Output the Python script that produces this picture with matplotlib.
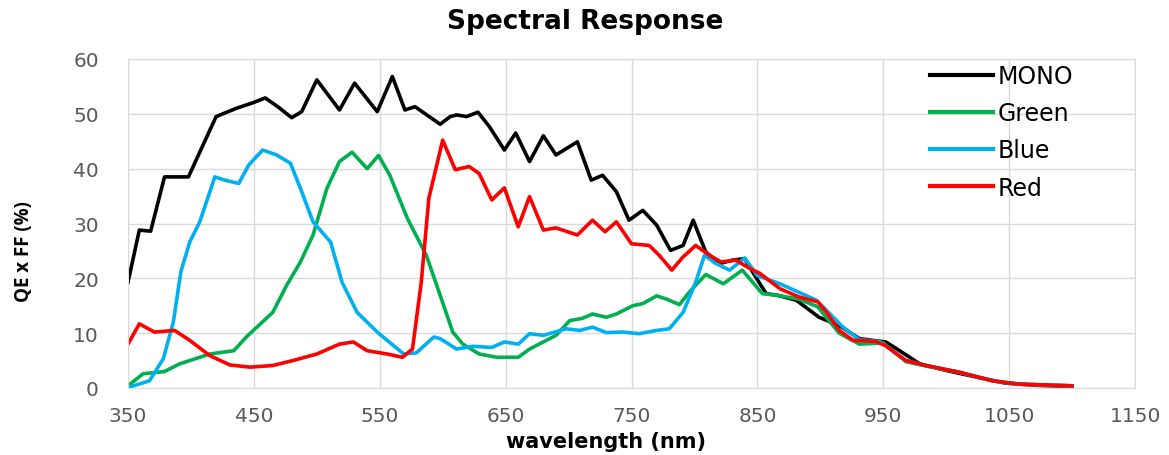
import matplotlib
matplotlib.use("Agg")
import matplotlib.pyplot as plt

# ---------- data ----------
mono_nm = [350, 359, 368, 379, 398, 407, 420, 436, 449, 459, 469, 480, 488, 500, 518, 530,
           548, 560, 570, 578, 598, 606, 611, 619, 628, 637, 649, 658, 669, 680, 690, 707,
           718, 727, 738, 748, 759, 770, 781, 791, 799, 809, 820, 830, 840, 848, 857, 866,
           881, 899, 915, 931, 952, 963, 979, 1000, 1024, 1047, 1071, 1100]
mono_qe = [19.3, 28.8, 28.6, 38.5, 38.5, 43.0, 49.5, 51.0, 52.0, 52.9, 51.3, 49.3, 50.4, 56.2, 50.7, 55.6,
           50.4, 56.8, 50.7, 51.3, 48.1, 49.5, 49.8, 49.5, 50.3, 47.7, 43.4, 46.5, 41.3, 46.0, 42.5, 44.9,
           37.9, 38.8, 35.8, 30.6, 32.4, 29.7, 25.1, 26.0, 30.6, 24.8, 22.7, 23.3, 23.6, 20.5, 17.2, 16.9,
           16.0, 12.9, 11.4, 9.0, 8.4, 6.8, 4.4, 3.2, 2.0, 0.9, 0.5, 0.3]

green_nm = [350, 362, 379, 391, 415, 434, 444, 465, 476, 487, 497, 508, 518, 528, 540, 549,
            558, 572, 587, 598, 608, 616, 629, 643, 660, 669, 690, 701, 711, 719, 730, 738,
            751, 759, 770, 778, 788, 796, 809, 823, 838, 854, 866, 883, 898, 915, 931, 950,
            968, 984, 1010, 1037, 1058, 1100]
green_qe = [0.4, 2.6, 3.0, 4.4, 6.2, 6.8, 9.3, 13.8, 18.7, 23.0, 27.9, 36.4, 41.3, 43.0, 40.0, 42.4,
            38.8, 30.9, 24.2, 16.9, 10.2, 8.0, 6.2, 5.6, 5.6, 7.1, 9.6, 12.3, 12.7, 13.5, 12.9, 13.5,
            15.0, 15.4, 16.8, 16.2, 15.2, 17.5, 20.7, 19.0, 21.5, 17.2, 16.9, 16.2, 14.8, 10.0, 8.0, 8.2,
            4.8, 4.0, 2.9, 1.3, 0.7, 0.4]

blue_nm = [350, 367, 378, 386, 392, 399, 407, 419, 427, 438, 446, 457, 468, 479, 487, 497,
           511, 520, 532, 548, 569, 579, 593, 598, 611, 624, 639, 649, 660, 669, 680, 698,
           709, 719, 730, 743, 756, 770, 780, 791, 801, 808, 817, 828, 840, 850, 868, 897,
           918, 931, 947, 968, 984, 1010, 1037, 1058, 1100]
blue_qe = [0.1, 1.3, 5.3, 12.0, 21.2, 26.6, 30.3, 38.5, 37.9, 37.3, 40.7, 43.4, 42.5, 41.0, 36.4, 30.3,
           26.6, 19.3, 13.8, 10.2, 6.2, 6.4, 9.3, 9.0, 7.1, 7.6, 7.4, 8.4, 8.0, 9.9, 9.6, 10.8,
           10.5, 11.1, 10.1, 10.2, 9.9, 10.5, 10.8, 13.8, 19.3, 24.2, 22.7, 21.5, 23.7, 20.5, 19.0, 16.0,
           11.1, 8.8, 8.5, 5.0, 4.1, 2.9, 1.3, 0.7, 0.4]

red_nm = [350, 359, 371, 387, 399, 415, 431, 447, 465, 481, 500, 518, 529, 540, 556, 568,
          576, 583, 589, 600, 610, 621, 629, 639, 649, 660, 669, 680, 690, 707, 719, 729,
          738, 750, 764, 772, 782, 791, 801, 812, 821, 833, 844, 852, 868, 883, 898, 905,
          915, 926, 944, 952, 968, 984, 1010, 1037, 1058, 1100]
red_qe = [8.0, 11.7, 10.2, 10.5, 8.7, 5.9, 4.2, 3.8, 4.1, 5.0, 6.2, 8.0, 8.4, 6.8, 6.2, 5.6,
          7.1, 19.3, 34.6, 45.2, 39.8, 40.4, 39.1, 34.3, 36.5, 29.4, 34.9, 28.8, 29.2, 27.9, 30.6, 28.5,
          30.3, 26.3, 26.0, 24.2, 21.5, 23.9, 26.0, 24.2, 23.0, 23.3, 21.8, 20.9, 18.1, 16.6, 15.7, 13.8,
          10.5, 8.7, 8.5, 7.7, 5.0, 4.1, 2.9, 1.3, 0.7, 0.4]

series = [("MONO", mono_nm, mono_qe, "#000000"),
          ("Green", green_nm, green_qe, "#00b050"),
          ("Blue", blue_nm, blue_qe, "#00b0f0"),
          ("Red", red_nm, red_qe, "#ff0000")]

x_ticks = [350, 450, 550, 650, 750, 850, 950, 1050, 1150]
y_ticks = [0, 10, 20, 30, 40, 50, 60]

# ---------- figure ----------
plt.rcParams['font.family'] = ['DejaVu Sans']

W, H = 1169, 456
fig = plt.figure(figsize=(W / 100, H / 100), dpi=100)
ax = fig.add_axes([128 / W, 1 - 389 / H, (1135 - 128) / W, (389 - 60) / H])

for name, xs, ys, col in series:
    ax.plot(xs, ys, color=col, lw=2.6, label=name, solid_joinstyle='round')

ax.set_xlim(350, 1150)
ax.set_ylim(0, 60)
ax.set_xticks(x_ticks)
ax.set_yticks(y_ticks)
ax.grid(True, color="#d9d9d9", lw=1.0)
ax.set_axisbelow(True)
for sp in ax.spines.values():
    sp.set_color("#d9d9d9")
ax.tick_params(axis='both', length=0, labelsize=14.5, colors="#595959")
ax.tick_params(axis='y', pad=21)
ax.tick_params(axis='x', pad=13)

# title centred over the chart
fig.text(585 / W, 1 - 22 / H, "Spectral Response", ha="center", va="center",
         fontsize=19, fontweight="bold")

ax.set_xlabel("wavelength (nm)", fontsize=15, fontweight="bold")
ax.xaxis.set_label_coords((606 - 128) / (1135 - 128), (389 - 442) / (389 - 60))
ax.xaxis.label.set_va("center")
ax.set_ylabel("QE x FF (%)", fontsize=13.5, fontweight="bold", family=['Open Sans', 'DejaVu Sans'])
ax.yaxis.set_label_coords((24 - 128) / (1135 - 128), (389 - 252) / (389 - 60))
ax.yaxis.label.set_va("center")

leg = ax.legend(loc="upper left", frameon=False, fontsize=17, handlelength=2.65,
                handletextpad=0.2, labelspacing=0.56, borderpad=0, borderaxespad=0,
                bbox_to_anchor=((930 - 128) / (1135 - 128), (389 - 65) / (389 - 60)))
for line in leg.get_lines():
    line.set_linewidth(3)

fig.savefig("out.png", dpi=100)
